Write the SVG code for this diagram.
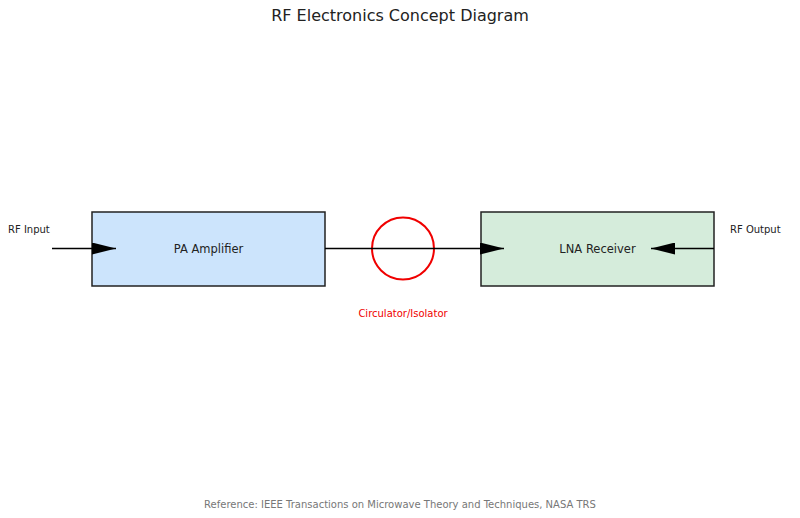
<svg xmlns="http://www.w3.org/2000/svg" width="800" height="518" viewBox="0 0 800 518">
<defs>
<style>
text{font-family:"DejaVu Sans",sans-serif;fill:#222;}
.box{stroke:#222;stroke-width:1.5;}
.conn{stroke:#000;stroke-width:1.6;fill:none;}
.lbl{font-size:10px;}
.node{font-size:11.5px;text-anchor:middle;dominant-baseline:central;}
</style>
<marker id="ah" viewBox="0 0 24 12" markerWidth="24" markerHeight="12" refX="24" refY="6" orient="auto" markerUnits="userSpaceOnUse">
<path d="M0,0 L24,6 L0,12 Z" fill="#000"/>
</marker>
</defs>
<rect width="800" height="518" fill="#fff"/>
<text x="400" y="21" font-size="16" text-anchor="middle">RF Electronics Concept Diagram</text>
<g id="pa">
<rect class="box" x="92" y="212" width="233" height="74" fill="#cce4fc"/>
<text class="node" x="208.5" y="249">PA Amplifier</text>
</g>
<g id="lna">
<rect class="box" x="481" y="212" width="233" height="74" fill="#d5ecdb"/>
<text class="node" x="597.5" y="249">LNA Receiver</text>
</g>
<g id="circulator">
<circle cx="403" cy="248.5" r="31" fill="none" stroke="#f00000" stroke-width="2"/>
<text x="403" y="317" font-size="10" text-anchor="middle" style="fill:#f00000">Circulator/Isolator</text>
</g>
<g id="connectors">
<line class="conn" x1="52" y1="248.5" x2="116" y2="248.5" marker-end="url(#ah)"/>
<line class="conn" x1="325" y1="248.5" x2="504" y2="248.5" marker-end="url(#ah)"/>
<line class="conn" x1="714" y1="248.5" x2="651" y2="248.5" marker-end="url(#ah)"/>
</g>
<text class="lbl" x="8" y="233">RF Input</text>
<text class="lbl" x="730" y="233">RF Output</text>
<text x="400" y="508" font-size="10" text-anchor="middle" style="fill:#777">Reference: IEEE Transactions on Microwave Theory and Techniques, NASA TRS</text>
</svg>
